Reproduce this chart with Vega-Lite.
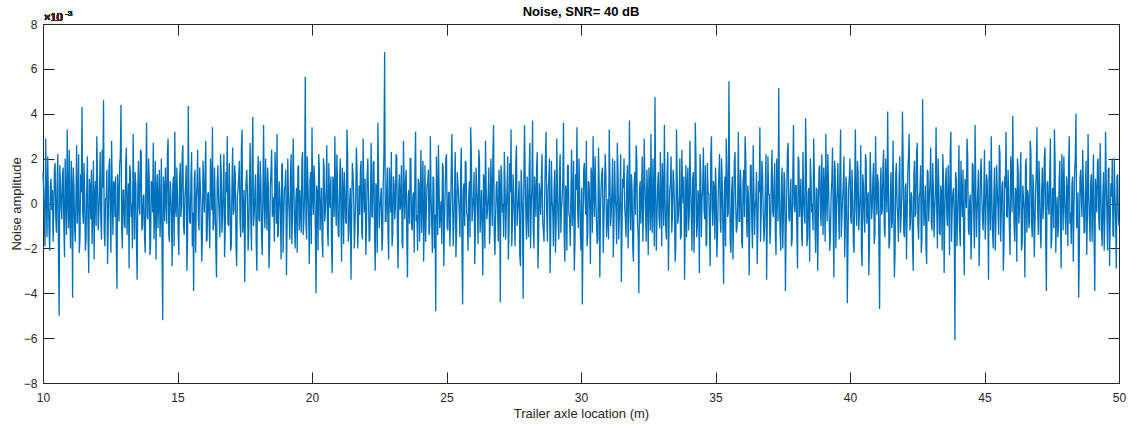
{
"$schema":"https://vega.github.io/schema/vega-lite/v6.json",
"width":1076,"height":359,
"autosize":"none",
"padding":{"left":43,"top":24,"right":10,"bottom":44},
"background":"#ffffff",
"config":{"view":{"stroke":null},"axis":{"labelFont":"Liberation Sans","titleFont":"Liberation Sans","labelFontSize":12,"titleFontSize":13,"titleFontWeight":"normal","labelColor":"#262626","titleColor":"#262626","domainColor":"#262626","tickColor":"#262626","grid":false}},
"title":{"text":"Noise, SNR= 40 dB","font":"Liberation Sans","fontSize":13,"fontWeight":"bold","color":"#000000","anchor":"middle","offset":-9},
"data":{"values":[
{"x":10.00,"y":1.4},{"x":10.05,"y":-0.8},{"x":10.10,"y":2.9},{"x":10.15,"y":-1.5},{"x":10.20,"y":0.3},{"x":10.25,"y":-2.1},{"x":10.30,"y":1.1},{"x":10.35,"y":0.6},{"x":10.40,"y":-0.4},{"x":10.45,"y":1.8},{"x":10.50,"y":-1.3},{"x":10.55,"y":2.2},{"x":10.60,"y":-5.0},{"x":10.65,"y":0.9},{"x":10.70,"y":-0.7},{"x":10.75,"y":1.6},{"x":10.80,"y":-2.4},{"x":10.85,"y":0.2},{"x":10.90,"y":3.3},{"x":10.95,"y":-1.1},
{"x":11.00,"y":-0.5},{"x":11.05,"y":1.9},{"x":11.10,"y":-4.2},{"x":11.15,"y":0.8},{"x":11.20,"y":-1.7},{"x":11.25,"y":2.6},{"x":11.30,"y":0.1},{"x":11.35,"y":-2.2},{"x":11.40,"y":1.3},{"x":11.45,"y":4.3},{"x":11.50,"y":-0.9},{"x":11.55,"y":0.4},{"x":11.60,"y":-1.6},{"x":11.65,"y":2.1},{"x":11.70,"y":-3.1},{"x":11.75,"y":0.7},{"x":11.80,"y":1.5},{"x":11.85,"y":-0.3},{"x":11.90,"y":-2.5},{"x":11.95,"y":1.0},
{"x":12.00,"y":3.0},{"x":12.05,"y":-1.2},{"x":12.10,"y":0.5},{"x":12.15,"y":-0.8},{"x":12.20,"y":2.4},{"x":12.25,"y":4.6},{"x":12.30,"y":-1.9},{"x":12.35,"y":0.2},{"x":12.40,"y":-2.7},{"x":12.45,"y":1.6},{"x":12.50,"y":-0.6},{"x":12.55,"y":2.8},{"x":12.60,"y":-1.4},{"x":12.65,"y":0.9},{"x":12.70,"y":1.2},{"x":12.75,"y":-3.8},{"x":12.80,"y":0.3},{"x":12.85,"y":1.7},{"x":12.90,"y":4.4},{"x":12.95,"y":-2.0},
{"x":13.00,"y":0.6},{"x":13.05,"y":-1.1},{"x":13.10,"y":2.5},{"x":13.15,"y":-0.2},{"x":13.20,"y":-2.9},{"x":13.25,"y":1.4},{"x":13.30,"y":0.0},{"x":13.35,"y":3.1},{"x":13.40,"y":-1.6},{"x":13.45,"y":0.8},{"x":13.50,"y":-3.4},{"x":13.55,"y":1.9},{"x":13.60,"y":-0.5},{"x":13.65,"y":2.3},{"x":13.70,"y":-1.0},{"x":13.75,"y":0.4},{"x":13.80,"y":-2.2},{"x":13.85,"y":3.6},{"x":13.90,"y":-0.7},{"x":13.95,"y":1.1},
{"x":14.00,"y":-1.8},{"x":14.05,"y":0.9},{"x":14.10,"y":2.7},{"x":14.15,"y":-0.4},{"x":14.20,"y":-2.5},{"x":14.25,"y":1.3},{"x":14.30,"y":0.2},{"x":14.35,"y":-1.5},{"x":14.40,"y":2.0},{"x":14.45,"y":-5.2},{"x":14.50,"y":0.7},{"x":14.55,"y":1.6},{"x":14.60,"y":-0.9},{"x":14.65,"y":2.9},{"x":14.70,"y":-1.7},{"x":14.75,"y":0.5},{"x":14.80,"y":-2.8},{"x":14.85,"y":1.2},{"x":14.90,"y":3.2},{"x":14.95,"y":-0.6},
{"x":15.00,"y":0.3},{"x":15.05,"y":-2.3},{"x":15.10,"y":1.8},{"x":15.15,"y":-0.1},{"x":15.20,"y":2.6},{"x":15.25,"y":-1.4},{"x":15.30,"y":0.8},{"x":15.35,"y":-3.0},{"x":15.40,"y":4.35},{"x":15.45,"y":-0.8},{"x":15.50,"y":1.0},{"x":15.55,"y":-1.9},{"x":15.60,"y":-3.9},{"x":15.65,"y":1.5},{"x":15.70,"y":0.2},{"x":15.75,"y":2.4},{"x":15.80,"y":-1.2},{"x":15.85,"y":0.6},{"x":15.90,"y":-2.6},{"x":15.95,"y":1.9},
{"x":16.00,"y":-0.4},{"x":16.05,"y":2.8},{"x":16.10,"y":-1.6},{"x":16.15,"y":0.5},{"x":16.20,"y":-2.0},{"x":16.25,"y":1.1},{"x":16.30,"y":3.4},{"x":16.35,"y":-0.9},{"x":16.40,"y":0.0},{"x":16.45,"y":-3.3},{"x":16.50,"y":1.7},{"x":16.55,"y":-0.6},{"x":16.60,"y":2.2},{"x":16.65,"y":-1.3},{"x":16.70,"y":0.8},{"x":16.75,"y":-2.4},{"x":16.80,"y":1.4},{"x":16.85,"y":3.0},{"x":16.90,"y":-1.0},{"x":16.95,"y":0.3},
{"x":17.00,"y":-1.9},{"x":17.05,"y":2.5},{"x":17.10,"y":-0.3},{"x":17.15,"y":1.2},{"x":17.20,"y":-2.8},{"x":17.25,"y":0.6},{"x":17.30,"y":1.9},{"x":17.35,"y":-1.5},{"x":17.40,"y":3.3},{"x":17.45,"y":-0.7},{"x":17.50,"y":-3.5},{"x":17.55,"y":1.0},{"x":17.60,"y":0.4},{"x":17.65,"y":-1.2},{"x":17.70,"y":2.7},{"x":17.75,"y":-2.1},{"x":17.80,"y":3.85},{"x":17.85,"y":-0.5},{"x":17.90,"y":1.3},{"x":17.95,"y":-3.0},
{"x":18.00,"y":2.1},{"x":18.05,"y":-0.8},{"x":18.10,"y":0.9},{"x":18.15,"y":-2.3},{"x":18.20,"y":3.5},{"x":18.25,"y":-1.1},{"x":18.30,"y":0.2},{"x":18.35,"y":1.6},{"x":18.40,"y":-2.9},{"x":18.45,"y":0.7},{"x":18.50,"y":2.4},{"x":18.55,"y":-0.2},{"x":18.60,"y":-1.7},{"x":18.65,"y":1.1},{"x":18.70,"y":3.1},{"x":18.75,"y":-1.4},{"x":18.80,"y":0.5},{"x":18.85,"y":-2.5},{"x":18.90,"y":1.8},{"x":18.95,"y":-0.6},
{"x":19.00,"y":0.8},{"x":19.05,"y":-3.2},{"x":19.10,"y":2.0},{"x":19.15,"y":-0.4},{"x":19.20,"y":1.3},{"x":19.25,"y":-1.8},{"x":19.30,"y":2.9},{"x":19.35,"y":-0.9},{"x":19.40,"y":0.1},{"x":19.45,"y":-2.2},{"x":19.50,"y":1.7},{"x":19.55,"y":0.6},{"x":19.60,"y":-1.3},{"x":19.65,"y":2.3},{"x":19.70,"y":-0.7},{"x":19.75,"y":5.65},{"x":19.80,"y":-1.6},{"x":19.85,"y":0.9},{"x":19.90,"y":-2.7},{"x":19.95,"y":1.4},
{"x":20.00,"y":3.4},{"x":20.05,"y":-0.5},{"x":20.10,"y":1.0},{"x":20.15,"y":-4.0},{"x":20.20,"y":0.4},{"x":20.25,"y":2.2},{"x":20.30,"y":-1.2},{"x":20.35,"y":0.7},{"x":20.40,"y":-2.4},{"x":20.45,"y":1.6},{"x":20.50,"y":-0.3},{"x":20.55,"y":2.6},{"x":20.60,"y":-1.9},{"x":20.65,"y":0.2},{"x":20.70,"y":1.2},{"x":20.75,"y":-3.1},{"x":20.80,"y":0.9},{"x":20.85,"y":3.0},{"x":20.90,"y":-1.0},{"x":20.95,"y":0.5},
{"x":21.00,"y":-1.5},{"x":21.05,"y":2.0},{"x":21.10,"y":-2.6},{"x":21.15,"y":0.6},{"x":21.20,"y":1.4},{"x":21.25,"y":-0.8},{"x":21.30,"y":3.3},{"x":21.35,"y":-1.7},{"x":21.40,"y":0.1},{"x":21.45,"y":-3.4},{"x":21.50,"y":1.8},{"x":21.55,"y":0.4},{"x":21.60,"y":-0.9},{"x":21.65,"y":2.5},{"x":21.70,"y":-2.0},{"x":21.75,"y":0.8},{"x":21.80,"y":1.5},{"x":21.85,"y":-1.3},{"x":21.90,"y":2.9},{"x":21.95,"y":-0.4},
{"x":22.00,"y":-2.3},{"x":22.05,"y":1.2},{"x":22.10,"y":0.3},{"x":22.15,"y":-1.6},{"x":22.20,"y":2.7},{"x":22.25,"y":-0.6},{"x":22.30,"y":1.9},{"x":22.35,"y":-3.0},{"x":22.40,"y":0.7},{"x":22.45,"y":3.6},{"x":22.50,"y":-1.1},{"x":22.55,"y":0.2},{"x":22.60,"y":-2.1},{"x":22.65,"y":1.0},{"x":22.70,"y":6.75},{"x":22.75,"y":-0.8},{"x":22.80,"y":1.6},{"x":22.85,"y":-2.5},{"x":22.90,"y":0.5},{"x":22.95,"y":2.3},
{"x":23.00,"y":-1.4},{"x":23.05,"y":0.9},{"x":23.10,"y":-0.2},{"x":23.15,"y":2.1},{"x":23.20,"y":-2.9},{"x":23.25,"y":1.3},{"x":23.30,"y":0.0},{"x":23.35,"y":-1.8},{"x":23.40,"y":2.8},{"x":23.45,"y":-0.7},{"x":23.50,"y":1.5},{"x":23.55,"y":-3.3},{"x":23.60,"y":0.6},{"x":23.65,"y":2.0},{"x":23.70,"y":-1.0},{"x":23.75,"y":0.3},{"x":23.80,"y":-2.2},{"x":23.85,"y":3.2},{"x":23.90,"y":-0.5},{"x":23.95,"y":1.1},
{"x":24.00,"y":-1.7},{"x":24.05,"y":2.4},{"x":24.10,"y":0.4},{"x":24.15,"y":-2.6},{"x":24.20,"y":1.7},{"x":24.25,"y":-0.3},{"x":24.30,"y":0.9},{"x":24.35,"y":-1.4},{"x":24.40,"y":3.0},{"x":24.45,"y":-0.9},{"x":24.50,"y":1.2},{"x":24.55,"y":-2.0},{"x":24.60,"y":-4.8},{"x":24.65,"y":0.7},{"x":24.70,"y":2.6},{"x":24.75,"y":-1.1},{"x":24.80,"y":0.1},{"x":24.85,"y":1.8},{"x":24.90,"y":-2.8},{"x":24.95,"y":0.6},
{"x":25.00,"y":2.2},{"x":25.05,"y":-1.2},{"x":25.10,"y":0.5},{"x":25.15,"y":-0.6},{"x":25.20,"y":3.1},{"x":25.25,"y":-1.9},{"x":25.30,"y":0.8},{"x":25.35,"y":-2.4},{"x":25.40,"y":1.4},{"x":25.45,"y":0.2},{"x":25.50,"y":-1.5},{"x":25.55,"y":2.5},{"x":25.60,"y":-4.5},{"x":25.65,"y":0.9},{"x":25.70,"y":1.9},{"x":25.75,"y":-0.4},{"x":25.80,"y":-2.1},{"x":25.85,"y":1.0},{"x":25.90,"y":3.4},{"x":25.95,"y":-0.8},
{"x":26.00,"y":0.3},{"x":26.05,"y":-2.7},{"x":26.10,"y":1.6},{"x":26.15,"y":-0.2},{"x":26.20,"y":2.4},{"x":26.25,"y":-1.3},{"x":26.30,"y":0.6},{"x":26.35,"y":-3.2},{"x":26.40,"y":1.1},{"x":26.45,"y":2.8},{"x":26.50,"y":-0.7},{"x":26.55,"y":0.4},{"x":26.60,"y":-1.8},{"x":26.65,"y":2.0},{"x":26.70,"y":-1.0},{"x":26.75,"y":3.5},{"x":26.80,"y":-2.3},{"x":26.85,"y":0.8},{"x":26.90,"y":-0.4},{"x":26.95,"y":1.5},
{"x":27.00,"y":-4.4},{"x":27.05,"y":1.3},{"x":27.10,"y":0.0},{"x":27.15,"y":2.3},{"x":27.20,"y":-1.6},{"x":27.25,"y":0.7},{"x":27.30,"y":-2.5},{"x":27.35,"y":1.8},{"x":27.40,"y":3.3},{"x":27.45,"y":-0.9},{"x":27.50,"y":0.4},{"x":27.55,"y":-1.9},{"x":27.60,"y":2.6},{"x":27.65,"y":-0.3},{"x":27.70,"y":1.0},{"x":27.75,"y":-2.8},{"x":27.80,"y":0.6},{"x":27.85,"y":-4.25},{"x":27.90,"y":3.5},{"x":27.95,"y":-0.6},
{"x":28.00,"y":1.2},{"x":28.05,"y":-1.5},{"x":28.10,"y":2.7},{"x":28.15,"y":-0.1},{"x":28.20,"y":3.7},{"x":28.25,"y":-2.0},{"x":28.30,"y":0.5},{"x":28.35,"y":1.6},{"x":28.40,"y":-2.9},{"x":28.45,"y":0.9},{"x":28.50,"y":-0.5},{"x":28.55,"y":2.2},{"x":28.60,"y":-1.2},{"x":28.65,"y":0.3},{"x":28.70,"y":3.2},{"x":28.75,"y":-1.7},{"x":28.80,"y":1.0},{"x":28.85,"y":-3.1},{"x":28.90,"y":1.9},{"x":28.95,"y":-0.3},
{"x":29.00,"y":0.7},{"x":29.05,"y":-2.2},{"x":29.10,"y":2.9},{"x":29.15,"y":-0.8},{"x":29.20,"y":1.4},{"x":29.25,"y":-1.3},{"x":29.30,"y":0.2},{"x":29.35,"y":3.6},{"x":29.40,"y":-2.6},{"x":29.45,"y":0.6},{"x":29.50,"y":1.7},{"x":29.55,"y":-0.5},{"x":29.60,"y":-1.9},{"x":29.65,"y":2.4},{"x":29.70,"y":0.1},{"x":29.75,"y":-3.0},{"x":29.80,"y":1.3},{"x":29.85,"y":3.4},{"x":29.90,"y":-1.1},{"x":29.95,"y":0.5},
{"x":30.00,"y":-2.1},{"x":30.05,"y":-4.5},{"x":30.10,"y":1.5},{"x":30.15,"y":0.3},{"x":30.20,"y":2.8},{"x":30.25,"y":-1.4},{"x":30.30,"y":0.9},{"x":30.35,"y":-2.7},{"x":30.40,"y":1.2},{"x":30.45,"y":3.0},{"x":30.50,"y":-0.6},{"x":30.55,"y":0.4},{"x":30.60,"y":-1.8},{"x":30.65,"y":2.5},{"x":30.70,"y":-3.3},{"x":30.75,"y":0.8},{"x":30.80,"y":1.6},{"x":30.85,"y":-0.9},{"x":30.90,"y":2.2},{"x":30.95,"y":-1.5},
{"x":31.00,"y":0.2},{"x":31.05,"y":3.3},{"x":31.10,"y":-1.0},{"x":31.15,"y":0.6},{"x":31.20,"y":-2.4},{"x":31.25,"y":1.9},{"x":31.30,"y":-0.3},{"x":31.35,"y":2.7},{"x":31.40,"y":-1.6},{"x":31.45,"y":0.4},{"x":31.50,"y":-3.5},{"x":31.55,"y":1.1},{"x":31.60,"y":2.0},{"x":31.65,"y":-0.7},{"x":31.70,"y":0.9},{"x":31.75,"y":-2.0},{"x":31.80,"y":3.7},{"x":31.85,"y":-1.2},{"x":31.90,"y":0.5},{"x":31.95,"y":-2.6},
{"x":32.00,"y":1.4},{"x":32.05,"y":2.6},{"x":32.10,"y":-0.8},{"x":32.15,"y":-4.0},{"x":32.20,"y":1.0},{"x":32.25,"y":0.3},{"x":32.30,"y":-1.7},{"x":32.35,"y":2.9},{"x":32.40,"y":-0.4},{"x":32.45,"y":1.5},{"x":32.50,"y":-2.3},{"x":32.55,"y":0.7},{"x":32.60,"y":3.1},{"x":32.65,"y":-1.3},{"x":32.70,"y":0.2},{"x":32.75,"y":4.75},{"x":32.80,"y":-2.1},{"x":32.85,"y":0.8},{"x":32.90,"y":-0.6},{"x":32.95,"y":2.3},
{"x":33.00,"y":-1.9},{"x":33.05,"y":0.5},{"x":33.10,"y":3.5},{"x":33.15,"y":-1.1},{"x":33.20,"y":1.3},{"x":33.25,"y":-3.0},{"x":33.30,"y":0.6},{"x":33.35,"y":2.1},{"x":33.40,"y":-0.5},{"x":33.45,"y":1.0},{"x":33.50,"y":-2.6},{"x":33.55,"y":3.3},{"x":33.60,"y":-0.9},{"x":33.65,"y":0.3},{"x":33.70,"y":-1.6},{"x":33.75,"y":2.4},{"x":33.80,"y":0.0},{"x":33.85,"y":-3.4},{"x":33.90,"y":1.7},{"x":33.95,"y":0.8},
{"x":34.00,"y":-1.2},{"x":34.05,"y":2.8},{"x":34.10,"y":-0.4},{"x":34.15,"y":1.1},{"x":34.20,"y":-2.2},{"x":34.25,"y":3.6},{"x":34.30,"y":-1.5},{"x":34.35,"y":0.6},{"x":34.40,"y":-3.1},{"x":34.45,"y":1.4},{"x":34.50,"y":0.2},{"x":34.55,"y":2.5},{"x":34.60,"y":-0.7},{"x":34.65,"y":-1.9},{"x":34.70,"y":1.8},{"x":34.75,"y":0.4},{"x":34.80,"y":-2.8},{"x":34.85,"y":3.0},{"x":34.90,"y":-1.0},{"x":34.95,"y":0.7},
{"x":35.00,"y":1.6},{"x":35.05,"y":-2.4},{"x":35.10,"y":0.3},{"x":35.15,"y":2.2},{"x":35.20,"y":-1.3},{"x":35.25,"y":0.9},{"x":35.30,"y":-3.6},{"x":35.35,"y":1.2},{"x":35.40,"y":2.9},{"x":35.45,"y":-0.6},{"x":35.50,"y":5.45},{"x":35.55,"y":-1.8},{"x":35.60,"y":0.5},{"x":35.65,"y":-2.5},{"x":35.70,"y":1.9},{"x":35.75,"y":0.1},{"x":35.80,"y":-1.1},{"x":35.85,"y":3.2},{"x":35.90,"y":-0.8},{"x":35.95,"y":0.6},
{"x":36.00,"y":-2.0},{"x":36.05,"y":1.5},{"x":36.10,"y":3.0},{"x":36.15,"y":-0.5},{"x":36.20,"y":0.8},{"x":36.25,"y":-3.2},{"x":36.30,"y":1.7},{"x":36.35,"y":-0.9},{"x":36.40,"y":2.6},{"x":36.45,"y":-1.4},{"x":36.50,"y":0.2},{"x":36.55,"y":-2.7},{"x":36.60,"y":1.0},{"x":36.65,"y":3.4},{"x":36.70,"y":-0.3},{"x":36.75,"y":1.3},{"x":36.80,"y":-1.7},{"x":36.85,"y":0.5},{"x":36.90,"y":-3.4},{"x":36.95,"y":2.1},
{"x":37.00,"y":0.4},{"x":37.05,"y":-1.0},{"x":37.10,"y":2.4},{"x":37.15,"y":-0.6},{"x":37.20,"y":1.8},{"x":37.25,"y":-2.3},{"x":37.30,"y":0.7},{"x":37.35,"y":5.15},{"x":37.40,"y":-1.2},{"x":37.45,"y":0.9},{"x":37.50,"y":-2.0},{"x":37.55,"y":1.4},{"x":37.60,"y":-3.9},{"x":37.65,"y":0.6},{"x":37.70,"y":2.7},{"x":37.75,"y":-0.8},{"x":37.80,"y":1.1},{"x":37.85,"y":-1.6},{"x":37.90,"y":3.5},{"x":37.95,"y":-0.4},
{"x":38.00,"y":0.8},{"x":38.05,"y":-2.9},{"x":38.10,"y":1.9},{"x":38.15,"y":0.2},{"x":38.20,"y":-1.3},{"x":38.25,"y":2.3},{"x":38.30,"y":-0.5},{"x":38.35,"y":3.8},{"x":38.40,"y":-1.9},{"x":38.45,"y":0.5},{"x":38.50,"y":-2.6},{"x":38.55,"y":1.2},{"x":38.60,"y":0.0},{"x":38.65,"y":2.9},{"x":38.70,"y":-1.1},{"x":38.75,"y":0.7},{"x":38.80,"y":-3.0},{"x":38.85,"y":1.6},{"x":38.90,"y":-0.3},{"x":38.95,"y":2.2},
{"x":39.00,"y":-1.4},{"x":39.05,"y":0.6},{"x":39.10,"y":3.1},{"x":39.15,"y":-0.8},{"x":39.20,"y":1.0},{"x":39.25,"y":-2.1},{"x":39.30,"y":0.4},{"x":39.35,"y":2.5},{"x":39.40,"y":-3.3},{"x":39.45,"y":1.5},{"x":39.50,"y":-0.2},{"x":39.55,"y":1.8},{"x":39.60,"y":-1.6},{"x":39.65,"y":3.3},{"x":39.70,"y":-0.6},{"x":39.75,"y":0.9},{"x":39.80,"y":-2.4},{"x":39.85,"y":1.2},{"x":39.90,"y":-4.45},{"x":39.95,"y":0.7},
{"x":40.00,"y":2.0},{"x":40.05,"y":-0.9},{"x":40.10,"y":0.3},{"x":40.15,"y":-2.2},{"x":40.20,"y":3.3},{"x":40.25,"y":-1.0},{"x":40.30,"y":1.4},{"x":40.35,"y":-0.4},{"x":40.40,"y":2.6},{"x":40.45,"y":-2.8},{"x":40.50,"y":0.8},{"x":40.55,"y":-1.3},{"x":40.60,"y":1.9},{"x":40.65,"y":0.1},{"x":40.70,"y":-3.2},{"x":40.75,"y":2.3},{"x":40.80,"y":-0.7},{"x":40.85,"y":1.1},{"x":40.90,"y":-1.8},{"x":40.95,"y":3.0},
{"x":41.00,"y":-0.5},{"x":41.05,"y":0.9},{"x":41.10,"y":-4.7},{"x":41.15,"y":1.6},{"x":41.20,"y":-0.3},{"x":41.25,"y":2.4},{"x":41.30,"y":-1.5},{"x":41.35,"y":0.6},{"x":41.40,"y":4.1},{"x":41.45,"y":-2.0},{"x":41.50,"y":0.4},{"x":41.55,"y":-1.1},{"x":41.60,"y":2.8},{"x":41.65,"y":-3.3},{"x":41.70,"y":1.3},{"x":41.75,"y":0.0},{"x":41.80,"y":-1.7},{"x":41.85,"y":2.1},{"x":41.90,"y":-0.6},{"x":41.95,"y":4.1},
{"x":42.00,"y":-1.3},{"x":42.05,"y":0.7},{"x":42.10,"y":-2.5},{"x":42.15,"y":1.5},{"x":42.20,"y":3.1},{"x":42.25,"y":-0.8},{"x":42.30,"y":0.3},{"x":42.35,"y":-3.0},{"x":42.40,"y":1.9},{"x":42.45,"y":-0.4},{"x":42.50,"y":2.7},{"x":42.55,"y":-1.6},{"x":42.60,"y":0.5},{"x":42.65,"y":-2.2},{"x":42.70,"y":4.65},{"x":42.75,"y":-1.0},{"x":42.80,"y":0.8},{"x":42.85,"y":-2.7},{"x":42.90,"y":1.4},{"x":42.95,"y":0.2},
{"x":43.00,"y":2.5},{"x":43.05,"y":-1.2},{"x":43.10,"y":0.6},{"x":43.15,"y":-0.3},{"x":43.20,"y":3.4},{"x":43.25,"y":-2.0},{"x":43.30,"y":1.0},{"x":43.35,"y":-1.4},{"x":43.40,"y":0.4},{"x":43.45,"y":2.2},{"x":43.50,"y":-3.1},{"x":43.55,"y":0.9},{"x":43.60,"y":-0.6},{"x":43.65,"y":1.7},{"x":43.70,"y":-2.3},{"x":43.75,"y":3.2},{"x":43.80,"y":-0.2},{"x":43.85,"y":0.7},{"x":43.90,"y":-6.1},{"x":43.95,"y":1.1},
{"x":44.00,"y":-0.8},{"x":44.05,"y":2.6},{"x":44.10,"y":-1.9},{"x":44.15,"y":0.4},{"x":44.20,"y":1.5},{"x":44.25,"y":-3.2},{"x":44.30,"y":0.8},{"x":44.35,"y":2.9},{"x":44.40,"y":-1.1},{"x":44.45,"y":0.1},{"x":44.50,"y":-2.5},{"x":44.55,"y":1.8},{"x":44.60,"y":-0.5},{"x":44.65,"y":3.5},{"x":44.70,"y":-1.5},{"x":44.75,"y":0.6},{"x":44.80,"y":-2.8},{"x":44.85,"y":1.3},{"x":44.90,"y":0.3},{"x":44.95,"y":-1.2},
{"x":45.00,"y":2.4},{"x":45.05,"y":-0.7},{"x":45.10,"y":1.0},{"x":45.15,"y":-3.4},{"x":45.20,"y":0.9},{"x":45.25,"y":3.0},{"x":45.30,"y":-1.3},{"x":45.35,"y":0.5},{"x":45.40,"y":-2.1},{"x":45.45,"y":1.7},{"x":45.50,"y":-0.2},{"x":45.55,"y":2.6},{"x":45.60,"y":-1.7},{"x":45.65,"y":0.8},{"x":45.70,"y":-3.0},{"x":45.75,"y":1.2},{"x":45.80,"y":3.2},{"x":45.85,"y":-0.6},{"x":45.90,"y":0.4},{"x":45.95,"y":-2.3},
{"x":46.00,"y":1.1},{"x":46.05,"y":3.9},{"x":46.10,"y":-1.0},{"x":46.15,"y":0.7},{"x":46.20,"y":-2.6},{"x":46.25,"y":1.5},{"x":46.30,"y":-0.3},{"x":46.35,"y":2.3},{"x":46.40,"y":-1.8},{"x":46.45,"y":0.2},{"x":46.50,"y":-3.3},{"x":46.55,"y":2.0},{"x":46.60,"y":0.6},{"x":46.65,"y":-1.1},{"x":46.70,"y":2.8},{"x":46.75,"y":-0.9},{"x":46.80,"y":1.3},{"x":46.85,"y":-2.4},{"x":46.90,"y":0.5},{"x":46.95,"y":3.4},
{"x":47.00,"y":-1.4},{"x":47.05,"y":0.8},{"x":47.10,"y":-2.0},{"x":47.15,"y":1.6},{"x":47.20,"y":0.0},{"x":47.25,"y":2.5},{"x":47.30,"y":-3.9},{"x":47.35,"y":1.0},{"x":47.40,"y":-0.5},{"x":47.45,"y":2.9},{"x":47.50,"y":-1.6},{"x":47.55,"y":0.7},{"x":47.60,"y":3.3},{"x":47.65,"y":-2.2},{"x":47.70,"y":0.3},{"x":47.75,"y":-1.0},{"x":47.80,"y":1.9},{"x":47.85,"y":-2.9},{"x":47.90,"y":0.9},{"x":47.95,"y":2.1},
{"x":48.00,"y":-0.6},{"x":48.05,"y":1.2},{"x":48.10,"y":-1.9},{"x":48.15,"y":3.0},{"x":48.20,"y":-0.4},{"x":48.25,"y":0.8},{"x":48.30,"y":-2.6},{"x":48.35,"y":1.4},{"x":48.40,"y":4.0},{"x":48.45,"y":-0.9},{"x":48.50,"y":-4.2},{"x":48.55,"y":1.1},{"x":48.60,"y":0.2},{"x":48.65,"y":2.4},{"x":48.70,"y":-1.3},{"x":48.75,"y":0.6},{"x":48.80,"y":-2.3},{"x":48.85,"y":3.1},{"x":48.90,"y":-0.7},{"x":48.95,"y":1.0},
{"x":49.00,"y":-1.7},{"x":49.05,"y":2.2},{"x":49.10,"y":-3.9},{"x":49.15,"y":0.5},{"x":49.20,"y":1.8},{"x":49.25,"y":-0.8},{"x":49.30,"y":2.7},{"x":49.35,"y":-1.2},{"x":49.40,"y":0.3},{"x":49.45,"y":-2.1},{"x":49.50,"y":3.2},{"x":49.55,"y":-0.4},{"x":49.60,"y":1.5},{"x":49.65,"y":-2.8},{"x":49.70,"y":0.9},{"x":49.75,"y":2.0},{"x":49.80,"y":-1.5},{"x":49.85,"y":0.4},{"x":49.90,"y":-2.9},{"x":49.95,"y":1.3},
{"x":50.00,"y":-1.0},
{"x":10.025,"y":0.6},{"x":10.075,"y":-1.9},{"x":10.125,"y":0.4},{"x":10.175,"y":2.1},{"x":10.225,"y":-1.2},{"x":10.275,"y":0.8},{"x":10.325,"y":-0.3},{"x":10.375,"y":-1.7},{"x":10.425,"y":1.5},{"x":10.475,"y":-0.6},{"x":10.525,"y":0.9},{"x":10.575,"y":-2.3},{"x":10.625,"y":1.7},{"x":10.675,"y":-0.2},{"x":10.725,"y":1.3},{"x":10.775,"y":-1.0},{"x":10.825,"y":2.0},{"x":10.875,"y":-1.4},{"x":10.925,"y":0.1},{"x":10.975,"y":2.4},
{"x":11.025,"y":-2.0},{"x":11.075,"y":0.7},{"x":11.125,"y":1.6},{"x":11.175,"y":-1.1},{"x":11.225,"y":0.3},{"x":11.275,"y":-0.9},{"x":11.325,"y":2.2},{"x":11.375,"y":-1.5},{"x":11.425,"y":0.5},{"x":11.475,"y":-0.4},{"x":11.525,"y":1.8},{"x":11.575,"y":-2.1},{"x":11.625,"y":0.6},{"x":11.675,"y":-1.3},{"x":11.725,"y":1.1},{"x":11.775,"y":-0.7},{"x":11.825,"y":-1.8},{"x":11.875,"y":1.9},{"x":11.925,"y":0.4},{"x":11.975,"y":-1.0},
{"x":12.025,"y":1.2},{"x":12.075,"y":-0.5},{"x":12.125,"y":2.3},{"x":12.175,"y":-1.6},{"x":12.225,"y":0.7},{"x":12.275,"y":-1.2},{"x":12.325,"y":0.2},{"x":12.375,"y":1.5},{"x":12.425,"y":-0.9},{"x":12.475,"y":2.0},{"x":12.525,"y":-2.2},{"x":12.575,"y":0.4},{"x":12.625,"y":1.0},{"x":12.675,"y":-0.6},{"x":12.725,"y":-1.9},{"x":12.775,"y":1.3},{"x":12.825,"y":-0.8},{"x":12.875,"y":2.1},{"x":12.925,"y":-1.1},{"x":12.975,"y":0.6},
{"x":13.025,"y":-0.9},{"x":13.075,"y":1.8},{"x":13.125,"y":-1.4},{"x":13.175,"y":0.9},{"x":13.225,"y":1.7},{"x":13.275,"y":-0.6},{"x":13.325,"y":-2.0},{"x":13.375,"y":0.5},{"x":13.425,"y":1.4},{"x":13.475,"y":-1.8},{"x":13.525,"y":0.7},{"x":13.575,"y":-0.2},{"x":13.625,"y":2.4},{"x":13.675,"y":-1.2},{"x":13.725,"y":0.3},{"x":13.775,"y":-1.5},{"x":13.825,"y":1.1},{"x":13.875,"y":-0.6},{"x":13.925,"y":2.0},{"x":13.975,"y":-2.3},
{"x":14.025,"y":1.0},{"x":14.075,"y":-0.4},{"x":14.125,"y":-1.6},{"x":14.175,"y":1.9},{"x":14.225,"y":0.6},{"x":14.275,"y":-1.1},{"x":14.325,"y":1.5},{"x":14.375,"y":-0.3},{"x":14.425,"y":-2.1},{"x":14.475,"y":1.2},{"x":14.525,"y":-0.8},{"x":14.575,"y":0.4},{"x":14.625,"y":2.2},{"x":14.675,"y":-1.4},{"x":14.725,"y":1.0},{"x":14.775,"y":-0.5},{"x":14.825,"y":0.8},{"x":14.875,"y":-1.9},{"x":14.925,"y":-0.2},{"x":14.975,"y":1.6},
{"x":15.025,"y":-1.3},{"x":15.075,"y":0.9},{"x":15.125,"y":-0.6},{"x":15.175,"y":2.1},{"x":15.225,"y":-1.0},{"x":15.275,"y":0.3},{"x":15.325,"y":1.7},{"x":15.375,"y":-1.6},{"x":15.425,"y":0.5},{"x":15.475,"y":-0.9},{"x":15.525,"y":2.3},{"x":15.575,"y":-0.4},{"x":15.625,"y":1.1},{"x":15.675,"y":-2.2},{"x":15.725,"y":0.8},{"x":15.775,"y":-0.7},{"x":15.825,"y":1.6},{"x":15.875,"y":-0.1},{"x":15.925,"y":-1.5},{"x":15.975,"y":0.7},
{"x":16.025,"y":1.3},{"x":16.075,"y":-1.7},{"x":16.125,"y":0.4},{"x":16.175,"y":-0.8},{"x":16.225,"y":2.0},{"x":16.275,"y":-0.3},{"x":16.325,"y":-1.2},{"x":16.375,"y":1.6},{"x":16.425,"y":-2.0},{"x":16.475,"y":0.9},{"x":16.525,"y":0.2},{"x":16.575,"y":-1.5},{"x":16.625,"y":1.4},{"x":16.675,"y":-0.6},{"x":16.725,"y":2.2},{"x":16.775,"y":-1.1},{"x":16.825,"y":0.5},{"x":16.875,"y":-0.9},{"x":16.925,"y":1.8},{"x":16.975,"y":-2.1},
{"x":17.025,"y":0.8},{"x":17.075,"y":-0.5},{"x":17.125,"y":1.7},{"x":17.175,"y":-1.9},{"x":17.225,"y":0.3},{"x":17.275,"y":1.2},{"x":17.325,"y":-0.8},{"x":17.375,"y":2.4},{"x":17.425,"y":-1.3},{"x":17.475,"y":0.6},{"x":17.525,"y":-0.2},{"x":17.575,"y":1.5},{"x":17.625,"y":-2.1},{"x":17.675,"y":0.9},{"x":17.725,"y":-0.6},{"x":17.775,"y":1.8},{"x":17.825,"y":-1.0},{"x":17.875,"y":0.4},{"x":17.925,"y":-1.7},{"x":17.975,"y":1.1},
{"x":18.025,"y":-0.7},{"x":18.075,"y":1.9},{"x":18.125,"y":-1.5},{"x":18.175,"y":0.5},{"x":18.225,"y":-0.2},{"x":18.275,"y":2.0},{"x":18.325,"y":-1.2},{"x":18.375,"y":0.8},{"x":18.425,"y":-1.8},{"x":18.475,"y":1.4},{"x":18.525,"y":-0.6},{"x":18.575,"y":0.3},{"x":18.625,"y":2.3},{"x":18.675,"y":-0.9},{"x":18.725,"y":-1.5},{"x":18.775,"y":1.0},{"x":18.825,"y":-0.4},{"x":18.875,"y":1.7},{"x":18.925,"y":-2.2},{"x":18.975,"y":0.6},
{"x":19.025,"y":1.5},{"x":19.075,"y":-0.8},{"x":19.125,"y":0.3},{"x":19.175,"y":-1.6},{"x":19.225,"y":2.2},{"x":19.275,"y":-0.5},{"x":19.325,"y":1.1},{"x":19.375,"y":-2.0},{"x":19.425,"y":0.7},{"x":19.475,"y":1.6},{"x":19.525,"y":-1.2},{"x":19.575,"y":-0.3},{"x":19.625,"y":1.9},{"x":19.675,"y":-1.4},{"x":19.725,"y":0.5},{"x":19.775,"y":-0.9},{"x":19.825,"y":2.1},{"x":19.875,"y":-0.6},{"x":19.925,"y":1.0},{"x":19.975,"y":-1.8},
{"x":20.025,"y":0.4},{"x":20.075,"y":1.7},{"x":20.125,"y":-1.3},{"x":20.175,"y":0.8},{"x":20.225,"y":-2.1},{"x":20.275,"y":1.4},{"x":20.325,"y":-0.4},{"x":20.375,"y":-1.6},{"x":20.425,"y":2.0},{"x":20.475,"y":-0.8},{"x":20.525,"y":0.6},{"x":20.575,"y":-1.1},{"x":20.625,"y":1.8},{"x":20.675,"y":-0.2},{"x":20.725,"y":-1.9},{"x":20.775,"y":1.2},{"x":20.825,"y":-0.6},{"x":20.875,"y":0.3},{"x":20.925,"y":2.2},{"x":20.975,"y":-1.4},
{"x":21.025,"y":0.9},{"x":21.075,"y":-0.3},{"x":21.125,"y":1.6},{"x":21.175,"y":-1.8},{"x":21.225,"y":0.5},{"x":21.275,"y":-0.9},{"x":21.325,"y":2.1},{"x":21.375,"y":-1.2},{"x":21.425,"y":0.7},{"x":21.475,"y":-0.4},{"x":21.525,"y":1.3},{"x":21.575,"y":-2.0},{"x":21.625,"y":0.2},{"x":21.675,"y":1.5},{"x":21.725,"y":-1.0},{"x":21.775,"y":-0.5},{"x":21.825,"y":1.9},{"x":21.875,"y":-1.6},{"x":21.925,"y":0.6},{"x":21.975,"y":1.1},
{"x":22.025,"y":-1.0},{"x":22.075,"y":2.0},{"x":22.125,"y":-1.7},{"x":22.175,"y":0.4},{"x":22.225,"y":-0.6},{"x":22.275,"y":1.8},{"x":22.325,"y":-1.1},{"x":22.375,"y":0.9},{"x":22.425,"y":-2.2},{"x":22.475,"y":1.3},{"x":22.525,"y":-0.2},{"x":22.575,"y":0.7},{"x":22.625,"y":-1.5},{"x":22.675,"y":2.3},{"x":22.725,"y":-0.8},{"x":22.775,"y":0.5},{"x":22.825,"y":-1.3},{"x":22.875,"y":1.6},{"x":22.925,"y":-0.4},{"x":22.975,"y":-1.9},
{"x":23.025,"y":1.2},{"x":23.075,"y":-0.7},{"x":23.125,"y":2.2},{"x":23.175,"y":-1.4},{"x":23.225,"y":0.6},{"x":23.275,"y":-0.3},{"x":23.325,"y":1.7},{"x":23.375,"y":-2.0},{"x":23.425,"y":0.8},{"x":23.475,"y":1.0},{"x":23.525,"y":-1.6},{"x":23.575,"y":0.3},{"x":23.625,"y":-0.9},{"x":23.675,"y":2.0},{"x":23.725,"y":-1.2},{"x":23.775,"y":0.5},{"x":23.825,"y":1.4},{"x":23.875,"y":-0.8},{"x":23.925,"y":-2.1},{"x":23.975,"y":0.9},
{"x":24.025,"y":0.2},{"x":24.075,"y":-1.3},{"x":24.125,"y":1.9},{"x":24.175,"y":-0.6},{"x":24.225,"y":-1.7},{"x":24.275,"y":0.8},{"x":24.325,"y":1.5},{"x":24.375,"y":-1.0},{"x":24.425,"y":0.4},{"x":24.475,"y":-2.2},{"x":24.525,"y":1.1},{"x":24.575,"y":-0.5},{"x":24.625,"y":2.1},{"x":24.675,"y":-1.4},{"x":24.725,"y":0.7},{"x":24.775,"y":-0.3},{"x":24.825,"y":-1.8},{"x":24.875,"y":1.6},{"x":24.925,"y":-0.9},{"x":24.975,"y":2.0},
{"x":25.025,"y":-1.1},{"x":25.075,"y":0.5},{"x":25.125,"y":-1.9},{"x":25.175,"y":1.4},{"x":25.225,"y":0.2},{"x":25.275,"y":-0.8},{"x":25.325,"y":2.3},{"x":25.375,"y":-1.3},{"x":25.425,"y":0.9},{"x":25.475,"y":-0.4},{"x":25.525,"y":1.2},{"x":25.575,"y":-2.0},{"x":25.625,"y":0.6},{"x":25.675,"y":-1.0},{"x":25.725,"y":1.8},{"x":25.775,"y":-0.6},{"x":25.825,"y":0.3},{"x":25.875,"y":-1.5},{"x":25.925,"y":2.1},{"x":25.975,"y":-0.2},
{"x":26.025,"y":1.4},{"x":26.075,"y":-1.0},{"x":26.125,"y":0.6},{"x":26.175,"y":-1.8},{"x":26.225,"y":1.9},{"x":26.275,"y":-0.5},{"x":26.325,"y":-1.1},{"x":26.375,"y":1.3},{"x":26.425,"y":-2.0},{"x":26.475,"y":0.7},{"x":26.525,"y":-0.3},{"x":26.575,"y":1.6},{"x":26.625,"y":-0.9},{"x":26.675,"y":0.4},{"x":26.725,"y":2.2},{"x":26.775,"y":-1.4},{"x":26.825,"y":-0.6},{"x":26.875,"y":1.0},{"x":26.925,"y":-1.7},{"x":26.975,"y":0.8},
{"x":27.025,"y":1.7},{"x":27.075,"y":-0.4},{"x":27.125,"y":-1.5},{"x":27.175,"y":0.9},{"x":27.225,"y":-0.2},{"x":27.275,"y":2.1},{"x":27.325,"y":-1.2},{"x":27.375,"y":0.5},{"x":27.425,"y":-1.9},{"x":27.475,"y":1.3},{"x":27.525,"y":-0.7},{"x":27.575,"y":1.8},{"x":27.625,"y":-1.0},{"x":27.675,"y":0.2},{"x":27.725,"y":-2.3},{"x":27.775,"y":1.5},{"x":27.825,"y":-0.5},{"x":27.875,"y":0.8},{"x":27.925,"y":1.2},{"x":27.975,"y":-1.6},
{"x":28.025,"y":-0.3},{"x":28.075,"y":1.6},{"x":28.125,"y":-2.0},{"x":28.175,"y":0.7},{"x":28.225,"y":-1.1},{"x":28.275,"y":1.2},{"x":28.325,"y":-0.6},{"x":28.375,"y":2.3},{"x":28.425,"y":-1.5},{"x":28.475,"y":0.3},{"x":28.525,"y":1.0},{"x":28.575,"y":-0.8},{"x":28.625,"y":-1.7},{"x":28.675,"y":1.9},{"x":28.725,"y":-0.4},{"x":28.775,"y":0.6},{"x":28.825,"y":2.0},{"x":28.875,"y":-1.3},{"x":28.925,"y":0.1},{"x":28.975,"y":-1.9},
{"x":29.025,"y":1.5},{"x":29.075,"y":-0.9},{"x":29.125,"y":0.4},{"x":29.175,"y":-1.6},{"x":29.225,"y":2.2},{"x":29.275,"y":-0.2},{"x":29.325,"y":1.1},{"x":29.375,"y":-1.4},{"x":29.425,"y":0.8},{"x":29.475,"y":-2.1},{"x":29.525,"y":1.7},{"x":29.575,"y":-0.6},{"x":29.625,"y":0.3},{"x":29.675,"y":-1.0},{"x":29.725,"y":1.9},{"x":29.775,"y":-1.8},{"x":29.825,"y":0.6},{"x":29.875,"y":-0.3},{"x":29.925,"y":2.0},{"x":29.975,"y":-1.2},
{"x":30.025,"y":0.7},{"x":30.075,"y":-1.2},{"x":30.125,"y":1.8},{"x":30.175,"y":-0.5},{"x":30.225,"y":-1.9},{"x":30.275,"y":1.0},{"x":30.325,"y":-0.3},{"x":30.375,"y":1.6},{"x":30.425,"y":-1.3},{"x":30.475,"y":0.5},{"x":30.525,"y":2.1},{"x":30.575,"y":-0.8},{"x":30.625,"y":-1.6},{"x":30.675,"y":0.9},{"x":30.725,"y":-0.2},{"x":30.775,"y":1.4},{"x":30.825,"y":-2.2},{"x":30.875,"y":0.6},{"x":30.925,"y":1.2},{"x":30.975,"y":-0.7},
{"x":31.025,"y":-1.6},{"x":31.075,"y":1.1},{"x":31.125,"y":-0.4},{"x":31.175,"y":2.0},{"x":31.225,"y":-0.9},{"x":31.275,"y":0.3},{"x":31.325,"y":-1.8},{"x":31.375,"y":1.5},{"x":31.425,"y":-0.6},{"x":31.475,"y":2.2},{"x":31.525,"y":-1.1},{"x":31.575,"y":0.7},{"x":31.625,"y":-0.2},{"x":31.675,"y":-1.5},{"x":31.725,"y":1.7},{"x":31.775,"y":-0.8},{"x":31.825,"y":0.4},{"x":31.875,"y":1.3},{"x":31.925,"y":-2.0},{"x":31.975,"y":0.9},
{"x":32.025,"y":-0.5},{"x":32.075,"y":1.9},{"x":32.125,"y":-1.4},{"x":32.175,"y":0.6},{"x":32.225,"y":-0.9},{"x":32.275,"y":2.1},{"x":32.325,"y":-0.3},{"x":32.375,"y":1.0},{"x":32.425,"y":-1.7},{"x":32.475,"y":0.4},{"x":32.525,"y":1.6},{"x":32.575,"y":-1.2},{"x":32.625,"y":-0.4},{"x":32.675,"y":2.0},{"x":32.725,"y":-1.9},{"x":32.775,"y":0.8},{"x":32.825,"y":-0.6},{"x":32.875,"y":1.4},{"x":32.925,"y":-1.1},{"x":32.975,"y":0.3},
{"x":33.025,"y":1.8},{"x":33.075,"y":-1.0},{"x":33.125,"y":0.2},{"x":33.175,"y":-1.6},{"x":33.225,"y":2.3},{"x":33.275,"y":-0.7},{"x":33.325,"y":0.9},{"x":33.375,"y":-1.3},{"x":33.425,"y":1.5},{"x":33.475,"y":-0.2},{"x":33.525,"y":-1.9},{"x":33.575,"y":1.1},{"x":33.625,"y":-0.5},{"x":33.675,"y":2.0},{"x":33.725,"y":-1.4},{"x":33.775,"y":0.6},{"x":33.825,"y":1.2},{"x":33.875,"y":-0.8},{"x":33.925,"y":-1.5},{"x":33.975,"y":1.6},
{"x":34.025,"y":-0.4},{"x":34.075,"y":0.8},{"x":34.125,"y":-2.1},{"x":34.175,"y":1.4},{"x":34.225,"y":-0.6},{"x":34.275,"y":1.9},{"x":34.325,"y":-1.0},{"x":34.375,"y":0.3},{"x":34.425,"y":2.2},{"x":34.475,"y":-1.5},{"x":34.525,"y":0.7},{"x":34.575,"y":-0.3},{"x":34.625,"y":1.7},{"x":34.675,"y":-1.8},{"x":34.725,"y":0.5},{"x":34.775,"y":-0.9},{"x":34.825,"y":2.1},{"x":34.875,"y":-0.2},{"x":34.925,"y":1.0},{"x":34.975,"y":-1.6},
{"x":35.025,"y":0.6},{"x":35.075,"y":-1.4},{"x":35.125,"y":1.3},{"x":35.175,"y":-0.7},{"x":35.225,"y":2.0},{"x":35.275,"y":-1.1},{"x":35.325,"y":0.4},{"x":35.375,"y":-1.9},{"x":35.425,"y":1.6},{"x":35.475,"y":-0.4},{"x":35.525,"y":0.9},{"x":35.575,"y":-2.2},{"x":35.625,"y":1.2},{"x":35.675,"y":-0.5},{"x":35.725,"y":2.3},{"x":35.775,"y":-1.3},{"x":35.825,"y":0.2},{"x":35.875,"y":-0.8},{"x":35.925,"y":1.5},{"x":35.975,"y":-1.7},
{"x":36.025,"y":1.0},{"x":36.075,"y":-0.6},{"x":36.125,"y":2.1},{"x":36.175,"y":-1.5},{"x":36.225,"y":0.3},{"x":36.275,"y":-0.9},{"x":36.325,"y":1.7},{"x":36.375,"y":-2.0},{"x":36.425,"y":0.8},{"x":36.475,"y":-0.2},{"x":36.525,"y":1.4},{"x":36.575,"y":-1.2},{"x":36.625,"y":0.5},{"x":36.675,"y":-1.7},{"x":36.725,"y":1.9},{"x":36.775,"y":-0.4},{"x":36.825,"y":-1.0},{"x":36.875,"y":2.2},{"x":36.925,"y":-0.7},{"x":36.975,"y":0.4},
{"x":37.025,"y":-1.8},{"x":37.075,"y":1.2},{"x":37.125,"y":-0.3},{"x":37.175,"y":0.9},{"x":37.225,"y":-1.4},{"x":37.275,"y":2.0},{"x":37.325,"y":-0.8},{"x":37.375,"y":0.5},{"x":37.425,"y":-2.1},{"x":37.475,"y":1.6},{"x":37.525,"y":-0.5},{"x":37.575,"y":1.0},{"x":37.625,"y":-1.2},{"x":37.675,"y":2.3},{"x":37.725,"y":-0.6},{"x":37.775,"y":0.3},{"x":37.825,"y":-1.9},{"x":37.875,"y":1.4},{"x":37.925,"y":-0.1},{"x":37.975,"y":0.8},
{"x":38.025,"y":-1.3},{"x":38.075,"y":2.1},{"x":38.125,"y":-0.6},{"x":38.175,"y":1.1},{"x":38.225,"y":-1.9},{"x":38.275,"y":0.4},{"x":38.325,"y":-0.9},{"x":38.375,"y":1.8},{"x":38.425,"y":-1.5},{"x":38.475,"y":0.7},{"x":38.525,"y":2.0},{"x":38.575,"y":-0.4},{"x":38.625,"y":-1.2},{"x":38.675,"y":1.3},{"x":38.725,"y":-2.2},{"x":38.775,"y":0.6},{"x":38.825,"y":-0.3},{"x":38.875,"y":1.7},{"x":38.925,"y":-1.0},{"x":38.975,"y":0.5},
{"x":39.025,"y":1.6},{"x":39.075,"y":-1.7},{"x":39.125,"y":0.3},{"x":39.175,"y":2.2},{"x":39.225,"y":-0.5},{"x":39.275,"y":-1.3},{"x":39.325,"y":1.0},{"x":39.375,"y":-0.8},{"x":39.425,"y":1.9},{"x":39.475,"y":-2.0},{"x":39.525,"y":0.6},{"x":39.575,"y":-0.4},{"x":39.625,"y":1.4},{"x":39.675,"y":-1.5},{"x":39.725,"y":0.2},{"x":39.775,"y":2.1},{"x":39.825,"y":-1.1},{"x":39.875,"y":0.7},{"x":39.925,"y":-1.8},{"x":39.975,"y":1.2},
{"x":40.025,"y":-0.6},{"x":40.075,"y":1.5},{"x":40.125,"y":-1.8},{"x":40.175,"y":0.9},{"x":40.225,"y":-0.3},{"x":40.275,"y":1.9},{"x":40.325,"y":-1.2},{"x":40.375,"y":0.4},{"x":40.425,"y":-2.1},{"x":40.475,"y":1.3},{"x":40.525,"y":-0.7},{"x":40.575,"y":2.2},{"x":40.625,"y":-0.9},{"x":40.675,"y":0.5},{"x":40.725,"y":-1.6},{"x":40.775,"y":1.0},{"x":40.825,"y":-0.2},{"x":40.875,"y":1.8},{"x":40.925,"y":-1.4},{"x":40.975,"y":0.6},
{"x":41.025,"y":1.3},{"x":41.075,"y":-1.9},{"x":41.125,"y":0.7},{"x":41.175,"y":-0.5},{"x":41.225,"y":1.6},{"x":41.275,"y":-1.1},{"x":41.325,"y":2.0},{"x":41.375,"y":-0.4},{"x":41.425,"y":0.9},{"x":41.475,"y":-1.7},{"x":41.525,"y":1.4},{"x":41.575,"y":-0.8},{"x":41.625,"y":0.2},{"x":41.675,"y":-2.2},{"x":41.725,"y":1.8},{"x":41.775,"y":-0.6},{"x":41.825,"y":1.1},{"x":41.875,"y":-1.3},{"x":41.925,"y":0.4},{"x":41.975,"y":2.0},
{"x":42.025,"y":-1.5},{"x":42.075,"y":0.9},{"x":42.125,"y":-0.4},{"x":42.175,"y":2.1},{"x":42.225,"y":-1.2},{"x":42.275,"y":0.5},{"x":42.325,"y":-1.8},{"x":42.375,"y":1.3},{"x":42.425,"y":-0.6},{"x":42.475,"y":2.2},{"x":42.525,"y":-1.0},{"x":42.575,"y":0.3},{"x":42.625,"y":1.7},{"x":42.675,"y":-1.6},{"x":42.725,"y":0.7},{"x":42.775,"y":-0.2},{"x":42.825,"y":-2.0},{"x":42.875,"y":1.5},{"x":42.925,"y":-0.8},{"x":42.975,"y":1.0},
{"x":43.025,"y":-0.9},{"x":43.075,"y":1.8},{"x":43.125,"y":-1.5},{"x":43.175,"y":0.6},{"x":43.225,"y":-0.3},{"x":43.275,"y":2.0},{"x":43.325,"y":-1.3},{"x":43.375,"y":0.8},{"x":43.425,"y":-2.1},{"x":43.475,"y":1.2},{"x":43.525,"y":-0.4},{"x":43.575,"y":1.6},{"x":43.625,"y":-1.0},{"x":43.675,"y":0.3},{"x":43.725,"y":2.3},{"x":43.775,"y":-1.7},{"x":43.825,"y":0.5},{"x":43.875,"y":-0.7},{"x":43.925,"y":1.4},{"x":43.975,"y":-1.9},
{"x":44.025,"y":0.7},{"x":44.075,"y":-1.2},{"x":44.125,"y":1.9},{"x":44.175,"y":-0.6},{"x":44.225,"y":-1.6},{"x":44.275,"y":1.1},{"x":44.325,"y":-0.2},{"x":44.375,"y":2.1},{"x":44.425,"y":-1.4},{"x":44.475,"y":0.4},{"x":44.525,"y":-0.9},{"x":44.575,"y":1.7},{"x":44.625,"y":-2.0},{"x":44.675,"y":0.8},{"x":44.725,"y":-0.4},{"x":44.775,"y":1.5},{"x":44.825,"y":-1.1},{"x":44.875,"y":2.0},{"x":44.925,"y":-0.7},{"x":44.975,"y":0.5},
{"x":45.025,"y":-1.6},{"x":45.075,"y":1.3},{"x":45.125,"y":-0.5},{"x":45.175,"y":1.9},{"x":45.225,"y":-1.2},{"x":45.275,"y":0.3},{"x":45.325,"y":-2.0},{"x":45.375,"y":1.6},{"x":45.425,"y":-0.8},{"x":45.475,"y":0.6},{"x":45.525,"y":-1.4},{"x":45.575,"y":2.2},{"x":45.625,"y":-0.3},{"x":45.675,"y":1.0},{"x":45.725,"y":-1.8},{"x":45.775,"y":0.7},{"x":45.825,"y":-0.6},{"x":45.875,"y":1.5},{"x":45.925,"y":-1.1},{"x":45.975,"y":2.1},
{"x":46.025,"y":-0.4},{"x":46.075,"y":1.0},{"x":46.125,"y":-1.7},{"x":46.175,"y":0.5},{"x":46.225,"y":2.0},{"x":46.275,"y":-0.9},{"x":46.325,"y":1.2},{"x":46.375,"y":-2.1},{"x":46.425,"y":0.8},{"x":46.475,"y":-0.3},{"x":46.525,"y":1.7},{"x":46.575,"y":-1.3},{"x":46.625,"y":0.4},{"x":46.675,"y":-0.8},{"x":46.725,"y":2.3},{"x":46.775,"y":-1.5},{"x":46.825,"y":0.6},{"x":46.875,"y":-1.0},{"x":46.925,"y":1.4},{"x":46.975,"y":-0.2},
{"x":47.025,"y":1.9},{"x":47.075,"y":-1.3},{"x":47.125,"y":0.5},{"x":47.175,"y":-0.7},{"x":47.225,"y":2.1},{"x":47.275,"y":-1.6},{"x":47.325,"y":0.9},{"x":47.375,"y":-0.2},{"x":47.425,"y":1.3},{"x":47.475,"y":-2.0},{"x":47.525,"y":0.6},{"x":47.575,"y":-1.1},{"x":47.625,"y":1.8},{"x":47.675,"y":-0.4},{"x":47.725,"y":-1.5},{"x":47.775,"y":1.0},{"x":47.825,"y":-0.8},{"x":47.875,"y":2.2},{"x":47.925,"y":-1.2},{"x":47.975,"y":0.3},
{"x":48.025,"y":-1.4},{"x":48.075,"y":0.6},{"x":48.125,"y":1.7},{"x":48.175,"y":-0.9},{"x":48.225,"y":-1.8},{"x":48.275,"y":1.2},{"x":48.325,"y":-0.3},{"x":48.375,"y":2.0},{"x":48.425,"y":-1.1},{"x":48.475,"y":0.5},{"x":48.525,"y":-2.2},{"x":48.575,"y":1.5},{"x":48.625,"y":-0.6},{"x":48.675,"y":0.9},{"x":48.725,"y":-1.3},{"x":48.775,"y":1.9},{"x":48.825,"y":-0.5},{"x":48.875,"y":0.4},{"x":48.925,"y":-1.7},{"x":48.975,"y":1.3},
{"x":49.025,"y":0.2},{"x":49.075,"y":-1.6},{"x":49.125,"y":1.1},{"x":49.175,"y":-0.4},{"x":49.225,"y":2.0},{"x":49.275,"y":-1.2},{"x":49.325,"y":0.7},{"x":49.375,"y":-1.9},{"x":49.425,"y":1.4},{"x":49.475,"y":-0.5},{"x":49.525,"y":0.9},{"x":49.575,"y":-2.1},{"x":49.625,"y":1.6},{"x":49.675,"y":-0.7},{"x":49.725,"y":0.3},{"x":49.775,"y":-1.4},{"x":49.825,"y":2.0},{"x":49.875,"y":-0.9},{"x":49.925,"y":1.2},{"x":49.975,"y":-0.6}
]},
"layer":[
{"mark":{"type":"line","color":"#0072BD","strokeWidth":1.3},
 "encoding":{
  "x":{"field":"x","type":"quantitative","scale":{"domain":[10,50],"nice":false,"zero":false},
       "axis":{"orient":"bottom","values":[10,15,20,25,30,35,40,45,50],"tickSize":-11,"labelPadding":20,"title":"Trailer axle location (m)","titlePadding":4,"labelFlush":false}},
  "y":{"field":"y","type":"quantitative","scale":{"domain":[-8,8],"nice":false,"zero":false},
       "axis":{"orient":"left","values":[-8,-6,-4,-2,0,2,4,6,8],"tickSize":-11,"labelPadding":17,"title":"Noise amplitude","titlePadding":0,"labelFlush":false}}}},
{"mark":{"type":"text","text":"×10","font":"Liberation Sans","fontSize":11,"color":"#262626","align":"left","baseline":"alphabetic","dx":1,"dy":-3},
 "encoding":{
  "x":{"datum":10,"type":"quantitative","axis":{"orient":"top","values":[10,15,20,25,30,35,40,45,50],"tickSize":-11,"labels":false,"title":null}},
  "y":{"datum":8,"type":"quantitative","axis":{"orient":"right","values":[-8,-6,-4,-2,0,2,4,6,8],"tickSize":-11,"labels":false,"title":null}}}},
{"mark":{"type":"text","text":"-3","font":"Liberation Sans","fontSize":8,"color":"#262626","align":"left","baseline":"alphabetic","dx":22,"dy":-8},
 "encoding":{
  "x":{"datum":10,"type":"quantitative","axis":null},
  "y":{"datum":8,"type":"quantitative","axis":null}}}
],
"resolve":{"axis":{"x":"independent","y":"independent"}}
}
